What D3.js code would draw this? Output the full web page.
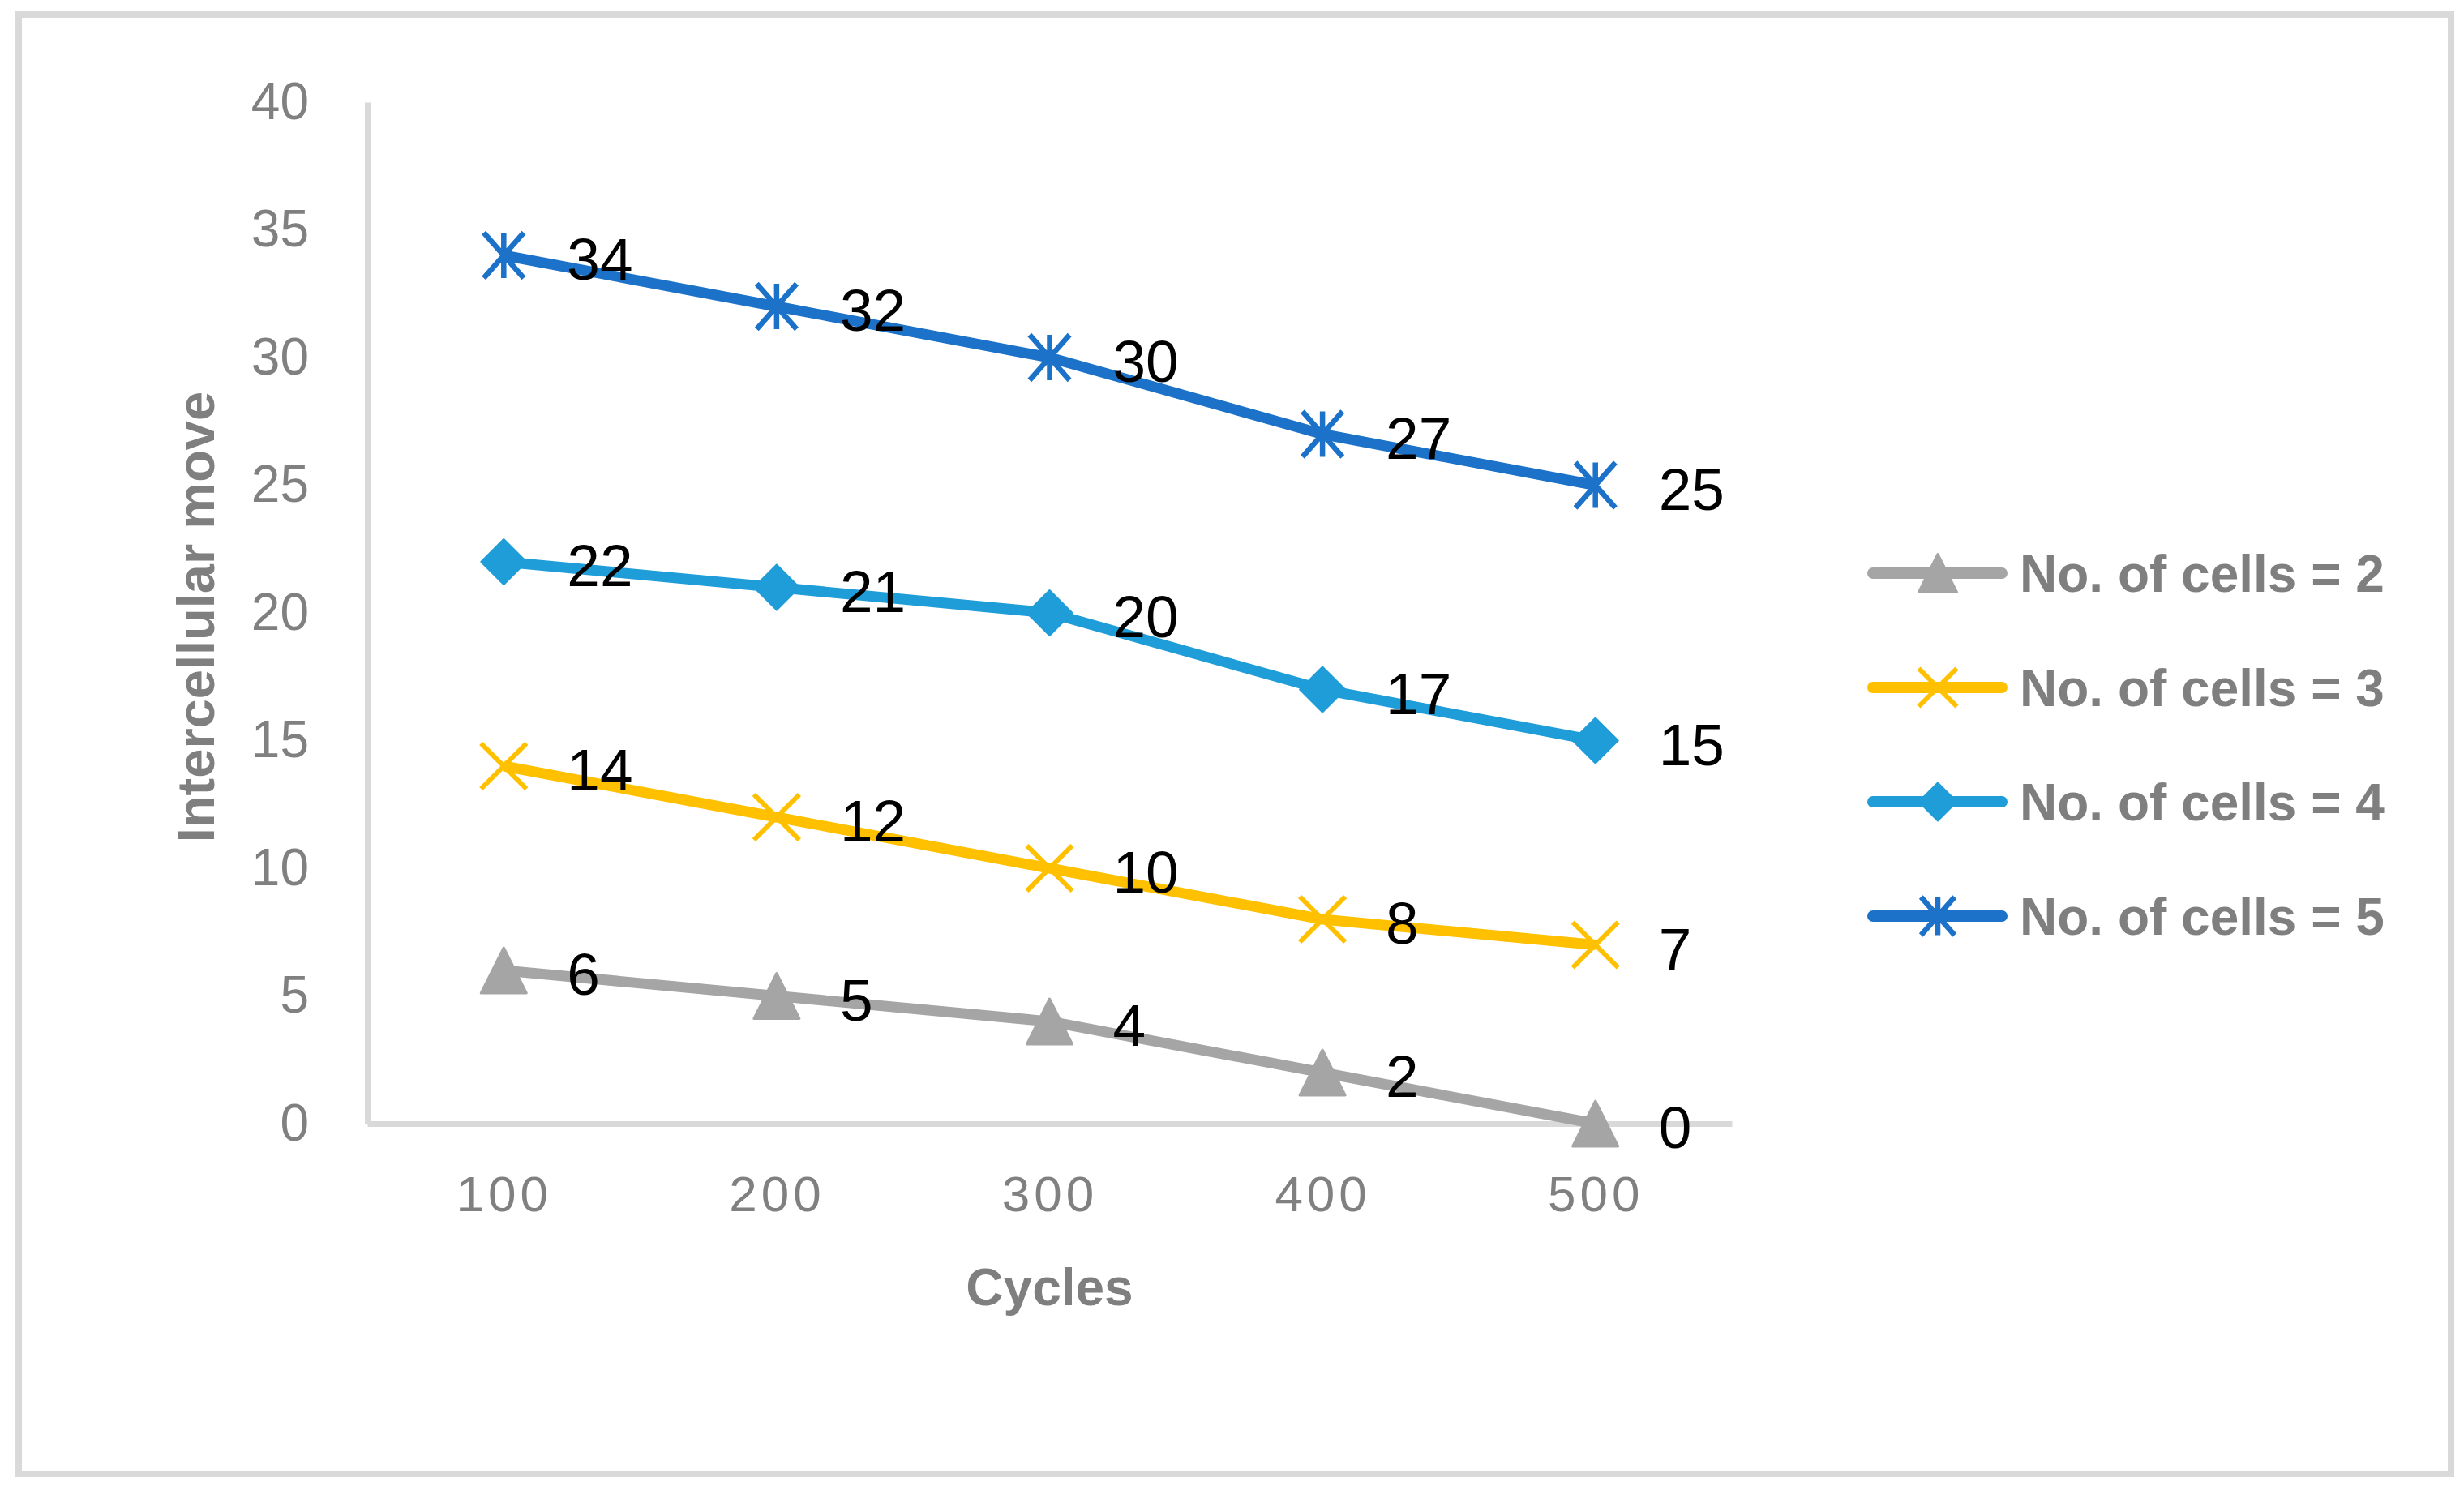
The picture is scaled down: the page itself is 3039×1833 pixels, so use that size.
<!DOCTYPE html>
<html>
<head>
<meta charset="utf-8">
<script src="https://cdn.jsdelivr.net/npm/d3@7"></script>
<style>
  body { margin: 0; background: #ffffff; }
  text { font-family: "Liberation Sans", Arial, sans-serif; }
</style>
</head>
<body>
<div id="chart"></div>
<script>
// chart data
var cycles = ["100", "200", "300", "400", "500"];
var cells2 = [6, 5, 4, 2, 0];
var cells3 = [14, 12, 10, 8, 7];
var cells4 = [22, 21, 20, 17, 15];
var cells5 = [34, 32, 30, 27, 25];
var seriesNames = ["No. of cells = 2", "No. of cells = 3", "No. of cells = 4", "No. of cells = 5"];
var yTicks = [0, 5, 10, 15, 20, 25, 30, 35, 40];

var seriesColors = ["#a5a5a5", "#ffc000", "#1f9dd9", "#1b72c8"];
var seriesMarkers = ["triangle", "x", "diamond", "star"];
var allSeries = [cells2, cells3, cells4, cells5];

var svgWidth = 3039;
var svgHeight = 1833;

var svg = d3.select("#chart")
  .append("svg")
  .attr("width", svgWidth)
  .attr("height", svgHeight);

// background and outer border
svg.append("rect")
  .attr("x", 23)
  .attr("y", 18)
  .attr("width", 3000)
  .attr("height", 1800)
  .attr("fill", "#ffffff")
  .attr("stroke", "#d9d9d9")
  .attr("stroke-width", 8);

// plot area
var plot = { left: 453, right: 2136, top: 126, bottom: 1386 };

var xScale = d3.scalePoint()
  .domain(cycles)
  .range([plot.left, plot.right])
  .padding(0.5);

var yScale = d3.scaleLinear()
  .domain([0, 40])
  .range([plot.bottom, plot.top]);

// y axis
var leftAxis = d3.axisLeft(yScale)
  .tickValues(yTicks)
  .tickSize(0)
  .tickPadding(72);

var yAxis = svg.append("g")
  .attr("transform", `translate(${plot.left}, 0)`)
  .call(leftAxis);

yAxis.select(".domain")
  .attr("stroke", "#d9d9d9")
  .attr("stroke-width", 7);

yAxis.selectAll("text")
  .style("font-size", "64px")
  .style("font-family", "'Liberation Sans', Arial, sans-serif")
  .attr("fill", "#808080");

// x axis
var bottomAxis = d3.axisBottom(xScale)
  .tickSize(0)
  .tickPadding(64);

var xAxis = svg.append("g")
  .attr("transform", `translate(0, ${plot.bottom})`)
  .call(bottomAxis);

xAxis.select(".domain")
  .attr("stroke", "#d9d9d9")
  .attr("stroke-width", 7);

xAxis.selectAll("text")
  .style("font-size", "62px")
  .style("letter-spacing", "5px")
  .style("font-family", "'Liberation Sans', Arial, sans-serif")
  .attr("fill", "#808080");

// axis titles
svg.append("text")
  .attr("x", (plot.left + plot.right) / 2)
  .attr("y", 1610)
  .attr("text-anchor", "middle")
  .attr("font-weight", "bold")
  .attr("font-size", 64)
  .attr("fill", "#7f7f7f")
  .text("Cycles");

svg.append("text")
  .attr("transform", "translate(264, 761) rotate(-90)")
  .attr("text-anchor", "middle")
  .attr("font-weight", "bold")
  .attr("font-size", 65)
  .attr("fill", "#7f7f7f")
  .text("Intercellular move");

// marker drawing
function drawMarker(g, type, color, s) {
  if (type == "triangle") {
    g.append("path")
      .attr("d", `M0,${-s} L${s},${s} L${-s},${s} Z`)
      .attr("fill", color)
      .attr("stroke", color)
      .attr("stroke-width", 3)
      .attr("stroke-linejoin", "round");
  } else if (type == "diamond") {
    g.append("path")
      .attr("d", `M0,${-s} L${s},0 L0,${s} L${-s},0 Z`)
      .attr("fill", color)
      .attr("stroke", color)
      .attr("stroke-width", 2)
      .attr("stroke-linejoin", "round");
  } else if (type == "x") {
    g.append("path")
      .attr("d", `M${-s},${-s} L${s},${s} M${s},${-s} L${-s},${s}`)
      .attr("stroke", color)
      .attr("stroke-width", 6)
      .attr("fill", "none");
  } else if (type == "star") {
    g.append("path")
      .attr("d", `M${-s * 0.88},${-s} L${s * 0.88},${s} M${s * 0.88},${-s} L${-s * 0.88},${s} M0,${-s} L0,${s}`)
      .attr("stroke", color)
      .attr("stroke-width", 6.5)
      .attr("fill", "none");
  }
}

var line = d3.line()
  .x((d, i) => xScale(cycles[i]))
  .y(d => yScale(d));

// series lines and markers
allSeries.forEach(function(values, k) {
  svg.append("path")
    .datum(values)
    .attr("d", line)
    .attr("fill", "none")
    .attr("stroke", seriesColors[k])
    .attr("stroke-width", 13)
    .attr("stroke-linejoin", "round");

  values.forEach(function(v, i) {
    var g = svg.append("g")
      .attr("transform", `translate(${xScale(cycles[i])}, ${yScale(v)})`);
    drawMarker(g, seriesMarkers[k], seriesColors[k], 28);
  });
});

// data labels
allSeries.forEach(function(values, k) {
  svg.append("g").selectAll("text")
    .data(values)
    .enter()
    .append("text")
    .attr("x", (d, i) => xScale(cycles[i]) + 78)
    .attr("y", d => yScale(d) + 30)
    .attr("font-size", 73)
    .attr("fill", "#000000")
    .text(d => d);
});

// legend
var legendRows = [707, 848, 989, 1130];
seriesNames.forEach(function(name, k) {
  var row = svg.append("g")
    .attr("transform", `translate(0, ${legendRows[k]})`);

  row.append("line")
    .attr("x1", 2310)
    .attr("x2", 2469)
    .attr("y1", 0)
    .attr("y2", 0)
    .attr("stroke", seriesColors[k])
    .attr("stroke-width", 14)
    .attr("stroke-linecap", "round");

  var m = row.append("g")
    .attr("transform", "translate(2390, 0)");
  drawMarker(m, seriesMarkers[k], seriesColors[k], 23.5);

  row.append("text")
    .attr("x", 2491)
    .attr("y", 23)
    .attr("font-weight", "bold")
    .attr("font-size", 64)
    .attr("fill", "#7f7f7f")
    .text(name);
});
</script>
</body>
</html>
